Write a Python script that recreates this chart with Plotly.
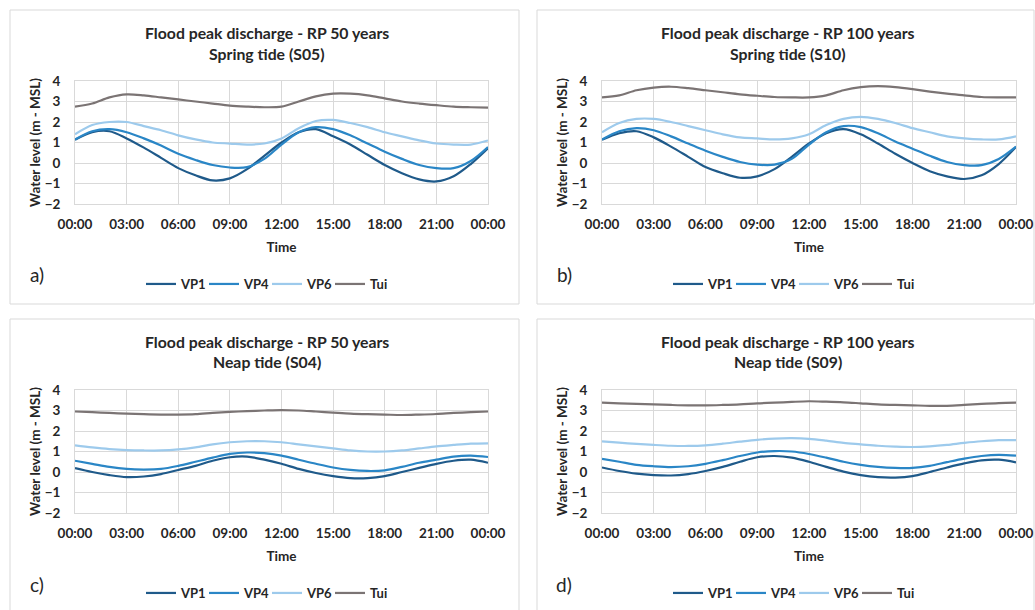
import plotly.graph_objects as go

hours = list(range(0, 25))
tick_vals = [0, 3, 6, 9, 12, 15, 18, 21, 24]
tick_text = ["00:00", "03:00", "06:00", "09:00", "12:00", "15:00", "18:00", "21:00", "00:00"]
series_names = ["VP1", "VP4", "VP6", "Tui"]
series_colors = ["#1F5A8A", "#2A86C6", "#9DCAEC", "#7B7474"]

titles = [
    ("Flood peak discharge - RP 50 years", "Spring tide (S05)"),
    ("Flood peak discharge - RP 100 years", "Spring tide (S10)"),
    ("Flood peak discharge - RP 50 years", "Neap tide (S04)"),
    ("Flood peak discharge - RP 100 years", "Neap tide (S09)"),
]
panel_labels = ["a)", "b)", "c)", "d)"]

# Panel a: RP 50, spring tide (S05)
a_vp1 = [1.13, 1.5, 1.55, 1.2, 0.75, 0.25, -0.25, -0.6, -0.85, -0.75, -0.3, 0.35, 1.0,
         1.5, 1.65, 1.3, 0.9, 0.4, -0.1, -0.5, -0.8, -0.9, -0.65, -0.05, 0.72]
a_vp4 = [1.15, 1.55, 1.65, 1.5, 1.2, 0.85, 0.45, 0.15, -0.1, -0.22, -0.2, 0.2, 0.9,
         1.5, 1.75, 1.65, 1.35, 0.95, 0.55, 0.2, -0.1, -0.25, -0.25, 0.1, 0.78]
a_vp6 = [1.4, 1.85, 2.0, 2.0, 1.8, 1.6, 1.35, 1.15, 1.0, 0.95, 0.9, 0.95, 1.2,
         1.7, 2.05, 2.1, 1.95, 1.75, 1.5, 1.3, 1.1, 0.95, 0.9, 0.9, 1.1]
a_tui = [2.75, 2.9, 3.2, 3.35, 3.3, 3.2, 3.1, 3.0, 2.9, 2.8, 2.75, 2.72, 2.75,
         3.0, 3.25, 3.38, 3.38, 3.3, 3.15, 3.0, 2.9, 2.82, 2.75, 2.72, 2.7]

# Panel b: RP 100, spring tide (S10)
b_vp1 = [1.13, 1.45, 1.55, 1.25, 0.8, 0.3, -0.2, -0.5, -0.72, -0.65, -0.3, 0.3, 0.95,
         1.45, 1.65, 1.4, 0.95, 0.45, 0.0, -0.4, -0.65, -0.78, -0.6, -0.05, 0.78]
b_vp4 = [1.15, 1.55, 1.7, 1.6, 1.3, 0.95, 0.6, 0.3, 0.05, -0.08, -0.08, 0.2, 0.9,
         1.5, 1.8, 1.75, 1.45, 1.05, 0.7, 0.35, 0.05, -0.1, -0.1, 0.2, 0.8]
b_vp6 = [1.5, 1.95, 2.15, 2.15, 2.0, 1.8, 1.6, 1.4, 1.25, 1.2, 1.15, 1.2, 1.4,
         1.85, 2.15, 2.25, 2.15, 1.95, 1.7, 1.5, 1.3, 1.2, 1.15, 1.15, 1.3]
b_tui = [3.2, 3.3, 3.55, 3.68, 3.72, 3.65, 3.55, 3.45, 3.35, 3.28, 3.22, 3.2, 3.2,
         3.3, 3.55, 3.7, 3.75, 3.7, 3.6, 3.48, 3.38, 3.3, 3.22, 3.2, 3.2]

# Panel c: RP 50, neap tide (S04)
c_vp1 = [0.19, 0.0, -0.15, -0.25, -0.22, -0.1, 0.1, 0.3, 0.55, 0.72, 0.75, 0.6, 0.4,
         0.15, -0.05, -0.2, -0.3, -0.3, -0.2, 0.0, 0.2, 0.4, 0.55, 0.6, 0.45]
c_vp4 = [0.55, 0.4, 0.25, 0.15, 0.12, 0.15, 0.3, 0.5, 0.7, 0.88, 0.95, 0.92, 0.8,
         0.6, 0.4, 0.22, 0.1, 0.05, 0.08, 0.25, 0.45, 0.6, 0.75, 0.8, 0.73]
c_vp6 = [1.3, 1.2, 1.12, 1.07, 1.05, 1.05, 1.1, 1.2, 1.35, 1.45, 1.5, 1.5, 1.45,
         1.35, 1.25, 1.15, 1.05, 1.0, 1.0, 1.05, 1.15, 1.25, 1.32, 1.38, 1.4]
c_tui = [2.95, 2.92, 2.88, 2.85, 2.82, 2.8, 2.8, 2.82, 2.88, 2.93, 2.97, 3.0, 3.02,
         3.0, 2.95, 2.9, 2.85, 2.82, 2.8, 2.78, 2.8, 2.83, 2.88, 2.92, 2.95]

# Panel d: RP 100, neap tide (S09)
d_vp1 = [0.22, 0.05, -0.08, -0.15, -0.17, -0.1, 0.05, 0.25, 0.5, 0.72, 0.78, 0.7, 0.5,
         0.25, 0.02, -0.15, -0.25, -0.27, -0.2, 0.0, 0.22, 0.42, 0.57, 0.6, 0.47]
d_vp4 = [0.64, 0.5, 0.35, 0.28, 0.24, 0.28, 0.4, 0.58, 0.78, 0.95, 1.02, 1.0, 0.88,
         0.7, 0.5, 0.35, 0.25, 0.2, 0.2, 0.3, 0.48, 0.65, 0.78, 0.84, 0.8]
d_vp6 = [1.49, 1.43, 1.37, 1.32, 1.28, 1.27, 1.3, 1.38, 1.48, 1.57, 1.63, 1.65, 1.62,
         1.53, 1.42, 1.35, 1.28, 1.24, 1.22, 1.25, 1.32, 1.42, 1.5, 1.55, 1.55]
d_tui = [3.38, 3.35, 3.32, 3.3, 3.27, 3.25, 3.25, 3.27, 3.3, 3.35, 3.38, 3.42, 3.45,
         3.43, 3.4, 3.35, 3.3, 3.27, 3.25, 3.23, 3.23, 3.27, 3.32, 3.36, 3.38]

panels_data = [
    [a_vp1, a_vp4, a_vp6, a_tui],
    [b_vp1, b_vp4, b_vp6, b_tui],
    [c_vp1, c_vp4, c_vp6, c_tui],
    [d_vp1, d_vp4, d_vp6, d_tui],
]

W, H = 1035, 610
FONT = "Lato"
TXT = "#262626"

# pixel layout (left, right, top, bottom) of plot areas and panel boxes
plot_px = [(75, 488, 81, 204), (602, 1016, 81, 204), (75, 488, 390, 513), (602, 1016, 390, 513)]
box_px = [(10, 519, 10, 304), (537, 1034, 10, 304), (10, 519, 319, 612), (537, 1034, 319, 612)]
title_y = [(32, 53), (32, 53), (341, 362), (341, 362)]
label_pos = [(37, 274), (564, 274), (37, 584), (564, 584)]
legend_cx = [267, 794, 267, 794]
legend_y = [284, 284, 593, 593]


def fx(px):
    return px / W


def fy(py):
    return 1 - py / H


fig = go.Figure()
layout = dict(
    width=W, height=H, margin=dict(l=0, r=0, t=0, b=0, autoexpand=False),
    paper_bgcolor="white", plot_bgcolor="white",
    font=dict(family=FONT, color=TXT),
    shapes=[], annotations=[],
)

for i in range(4):
    k = "" if i == 0 else str(i + 1)
    xa, ya = "x" + k, "y" + k
    lg = "legend" + k
    l, r, t, b = plot_px[i]
    for name, color, vals in zip(series_names, series_colors, panels_data[i]):
        fig.add_trace(go.Scatter(
            x=hours, y=vals, name=name, mode="lines",
            line=dict(color=color, width=2.2, shape="spline", smoothing=0.9),
            xaxis=xa, yaxis=ya, legend=lg, hoverinfo="skip",
        ))
    layout["xaxis" + k] = dict(
        domain=[fx(l), fx(r)], anchor=ya, range=[0, 24], automargin=False,
        tickvals=tick_vals, ticktext=tick_text,
        showgrid=True, gridcolor="#D9D9D9", gridwidth=1,
        showline=True, linecolor="#D9D9D9", mirror=True, zeroline=False,
        tickfont=dict(family=FONT, size=13.5, color=TXT, weight="bold"),
        ticks="", ticklabelstandoff=8,
        title=dict(text="<b>Time</b>", font=dict(family=FONT, size=13.5, color=TXT), standoff=11),
        fixedrange=True,
    )
    layout["yaxis" + k] = dict(
        domain=[fy(b), fy(t)], anchor=xa, range=[-2, 4], dtick=1, automargin=False,
        showgrid=True, gridcolor="#D9D9D9", gridwidth=1,
        showline=True, linecolor="#D9D9D9", mirror=True, zeroline=False,
        tickfont=dict(family=FONT, size=13.5, color=TXT, weight="bold"),
        ticks="", ticklabelstandoff=11,
        title=dict(text="<b>Water level (m - MSL)</b>", font=dict(family=FONT, size=13.5, color=TXT), standoff=0),
        fixedrange=True,
    )
    layout[lg] = dict(
        orientation="h", x=fx(legend_cx[i]), xanchor="center",
        y=fy(legend_y[i]), yanchor="middle",
        font=dict(family=FONT, size=13, color=TXT, weight="bold"),
        bgcolor="rgba(0,0,0,0)", itemwidth=30, tracegroupgap=0,
        entrywidth=18, entrywidthmode="pixels",
    )
    bl, br, bt, bb = box_px[i]
    layout["shapes"].append(dict(
        type="rect", xref="paper", yref="paper",
        x0=fx(bl), x1=fx(br), y0=fy(bb), y1=fy(bt),
        line=dict(color="#D9D9D9", width=1), fillcolor="rgba(0,0,0,0)", layer="below",
    ))
    cx = (bl + br) / 2 + 2
    for txt, yy in zip(titles[i], title_y[i]):
        layout["annotations"].append(dict(
            text="<b>" + txt + "</b>", xref="paper", yref="paper",
            x=fx(cx), y=fy(yy), xanchor="center", yanchor="middle",
            showarrow=False, font=dict(family=FONT, size=15.8, color=TXT),
        ))
    lx, ly = label_pos[i]
    layout["annotations"].append(dict(
        text=panel_labels[i], xref="paper", yref="paper",
        x=fx(lx), y=fy(ly), xanchor="center", yanchor="middle",
        showarrow=False, font=dict(family=FONT, size=19, color=TXT),
    ))

fig.update_layout(**layout)
fig.write_html("out.html")
